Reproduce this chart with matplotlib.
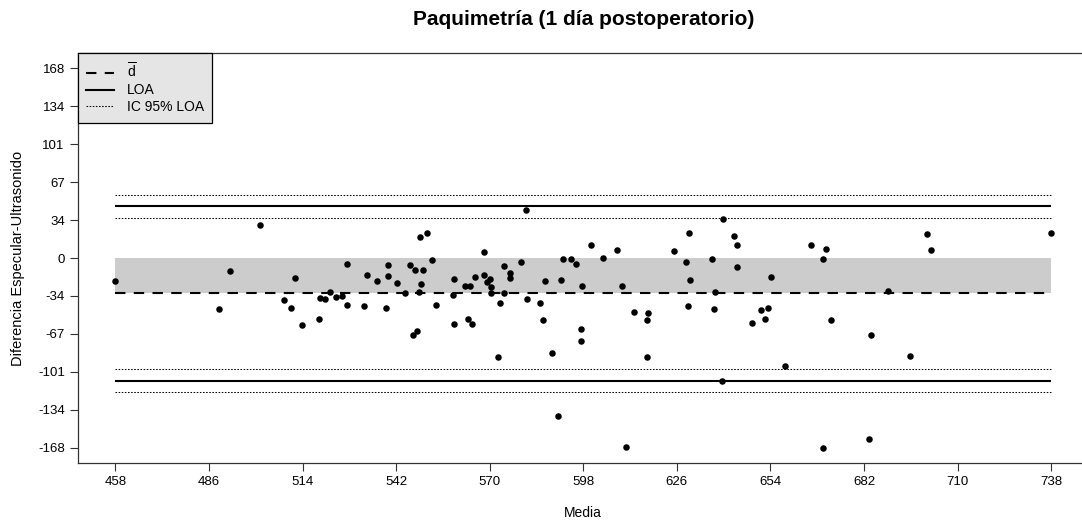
import numpy as np
import matplotlib
matplotlib.use("Agg")
import matplotlib.pyplot as plt
from matplotlib.lines import Line2D

plt.rcParams['font.family'] = ['Liberation Sans', 'DejaVu Sans']
plt.rcParams['mathtext.fontset'] = 'custom'
plt.rcParams['mathtext.rm'] = 'Liberation Sans'

# valores (media, diferencia)
media = [458.0, 501.4, 492.2, 511.6, 489.0, 508.4, 510.5, 513.7, 519.0, 519.3,
         520.8, 522.1, 524.0, 525.8, 527.2, 527.2, 532.5, 533.2, 536.4, 538.9,
         539.6, 539.6, 542.4, 544.6, 546.3, 547.0, 548.1, 547.7, 549.1, 549.9,
         549.5, 548.8, 551.2, 552.6, 554.0, 559.0, 559.4, 559.4, 562.5, 563.4,
         564.0, 564.7, 565.7, 568.2, 568.2, 569.3, 570.0, 570.4, 570.4, 573.2,
         572.5, 574.2, 574.2, 576.0, 576.0, 579.5, 581.0, 581.3, 585.2, 585.9,
         586.6, 588.6, 591.2, 591.9, 594.3, 595.7, 597.5, 597.2, 597.2, 600.4,
         603.9, 608.2, 609.6, 613.1, 617.0, 617.4, 617.0, 625.1, 628.6, 629.6,
         629.8, 629.3, 636.4, 637.4, 637.1, 639.9, 643.1, 643.9, 643.9, 648.4,
         651.2, 652.4, 653.4, 654.1, 658.4, 590.4, 610.9, 639.6, 666.1, 669.6,
         670.7, 672.0, 669.6, 684.2, 683.4, 689.1, 695.8, 700.8, 702.2, 738.0]
diferencia = [-20.5, 29.4, -11.3, -17.5, -44.7, -37.3, -43.8, -59.5, -54.1, -35.2,
              -36.4, -29.9, -34.3, -33.2, -4.9, -41.7, -42.6, -14.6, -20.5, -43.8,
              -6.0, -15.8, -21.7, -31.4, -6.0, -68.0, -64.8, -10.5, 19.0, -10.5,
              -23.2, -30.3, 22.0, -2.2, -41.7, -32.6, -18.8, -58.6, -25.0, -54.1,
              -25.0, -58.6, -16.6, 5.5, -14.6, -20.8, -18.8, -25.8, -31.2, -39.6,
              -87.4, -7.3, -31.2, -13.5, -17.9, -3.1, 42.9, -36.4, -39.6, -55.3,
              -20.5, -84.5, -19.6, -1.1, -1.1, -4.9, -25.0, -62.7, -73.0, 11.7,
              0.2, 7.5, -25.0, -48.0, -55.3, -49.1, -87.8, 6.4, -3.1, 22.0,
              -19.9, -42.9, -1.1, -30.3, -45.0, 34.7, 19.9, 11.7, -8.4, -57.3,
              -45.8, -54.4, -43.8, -16.6, -96.0, -140.0, -167.0, -109.0, 11.7, -1.1,
              8.4, -55.3, -168.3, -68.0, -160.0, -29.0, -86.6, 21.1, 7.5, 22.0]

d_media = -31.4
loa = [-108.6, 45.8]
ic_loa_inf = [-118.8, -98.0]
ic_loa_sup = [35.3, 56.0]

x_ticks = np.linspace(458, 738, 11)
y_ticks = np.linspace(-168, 168, 11)

fig = plt.figure(figsize=(10.82, 5.30), dpi=100)
ax = fig.add_axes([0.0721, 0.1264, 0.9339, 0.7736])

x0, x1 = min(media), max(media)

# banda gris entre 0 y la media
ax.fill_between([x0, x1], 0, d_media, color='#CCCCCC', lw=0, zorder=1)

ax.hlines(d_media, x0, x1, colors='black', lw=1.5, linestyles=(0, (5, 4)), zorder=2)
ax.hlines(loa, x0, x1, colors='black', lw=1.5, zorder=2)
ax.hlines(ic_loa_inf + ic_loa_sup, x0, x1, colors='black', lw=0.75,
          linestyles=(0, (1.5, 1.5)), zorder=2)

ax.scatter(media, diferencia, s=22, color='black', lw=0, zorder=3)

ax.set_xlim(446.8, 749.2)
ax.set_ylim(-181.4, 181.4)
ax.set_xticks(x_ticks)
ax.set_xticklabels([f"{v:.0f}" for v in x_ticks])
ax.set_yticks(y_ticks)
ax.set_yticklabels([f"{v:.0f}" for v in y_ticks])
ax.tick_params(labelsize=9.5, length=6, width=0.8, color='#333333')

for s in ax.spines.values():
    s.set_color('#333333')
    s.set_linewidth(0.9)

ax.set_title('Paquimetría (1 día postoperatorio)', fontsize=15, fontweight='bold', pad=20)
ax.set_xlabel('Media', fontsize=10, labelpad=13)
ax.set_ylabel('Diferencia Especular-Ultrasonido', fontsize=10.5, labelpad=9)

handles = [
    Line2D([], [], color='black', lw=1.5, linestyle=(0, (5, 4))),
    Line2D([], [], color='black', lw=1.5),
    Line2D([], [], color='black', lw=0.75, linestyle=(0, (1.5, 1.5))),
]
labels = [r'$\overline{\mathrm{d}}$', 'LOA', 'IC 95% LOA']
leg = ax.legend(handles, labels, loc='upper left', bbox_to_anchor=(0, 1),
                borderaxespad=0, fancybox=False, edgecolor='black',
                facecolor='#E5E5E5', framealpha=1, fontsize=10,
                handlelength=2.0, handletextpad=0.9, labelspacing=0.2,
                borderpad=0.6)
leg.get_frame().set_linewidth(0.9)

fig.savefig('out.png', dpi=100)
